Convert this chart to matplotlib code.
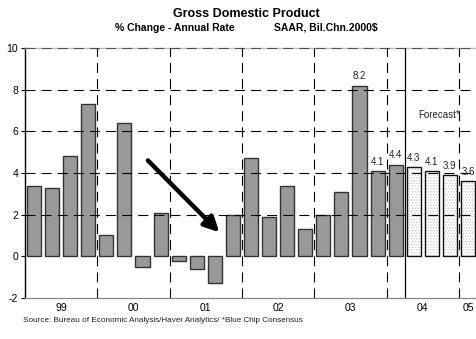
import matplotlib
matplotlib.use("Agg")
import matplotlib.pyplot as plt
import numpy as np

plt.rcParams['font.family'] = ['Liberation Sans', 'DejaVu Sans']
plt.rcParams['hatch.linewidth'] = 0.6
plt.rcParams['axes.unicode_minus'] = False

# Quarterly real GDP growth, 1999Q1 - 2005Q1 (% change, annual rate)
actual = [3.4, 3.3, 4.8, 7.3,
          1.0, 6.4, -0.5, 2.1,
          -0.2, -0.6, -1.3, 2.0,
          4.7, 1.9, 3.4, 1.3,
          2.0, 3.1, 8.2, 4.1,
          4.4]
forecast = [4.3, 4.1, 3.9, 3.6]
year_labels = ["99", "00", "01", "02", "03", "04", "05"]
labelled_actual = {18: "8.2", 19: "4.1", 20: "4.4"}
forecast_labels = ["4.3", "4.1", "3.9", "3.6"]

fig = plt.figure(figsize=(4.77, 3.39), dpi=100)
ax = fig.add_axes([25 / 477, 1 - 298 / 339, 1 - 25 / 477, (298 - 48) / 339])

n_act = len(actual)
x_act = np.arange(n_act)
x_fc = np.arange(n_act, n_act + len(forecast))
w = 0.78

ax.bar(x_act, actual, width=w, color="#999999", edgecolor="#333333",
       linewidth=1.0, zorder=2)
# dotted fill of the forecast bars, then their outlines
ax.bar(x_fc, forecast, width=w, color="white", edgecolor="#c8c8c8",
       hatch="......", linewidth=0, zorder=2)
ax.bar(x_fc, forecast, width=w, color="none", edgecolor="#111111",
       linewidth=1.0, zorder=3)

for i, txt in labelled_actual.items():
    ax.annotate(txt, (x_act[i], actual[i]), xytext=(0, 3),
                textcoords="offset points", ha="center", va="bottom",
                fontsize=7, color="#222222", zorder=5)
for xi, v, txt in zip(x_fc, forecast, forecast_labels):
    ax.annotate(txt, (xi, v), xytext=(0, 3), textcoords="offset points",
                ha="center", va="bottom", fontsize=7, color="#222222", zorder=5)

ax.set_xlim(-0.5, n_act + len(forecast) - 0.5)
ax.set_ylim(-2, 10)

# grid
dash = (0, (9, 5.5))
for y in [2, 4, 6, 8]:
    ax.axhline(y, color="black", lw=0.8, linestyle=dash, zorder=4)
ax.axhline(10, color="#bbbbbb", lw=1.0, zorder=4, clip_on=False)
ax.axhline(10, color="#555555", lw=0.8, linestyle=dash, zorder=4, clip_on=False)
for b in [3.5, 7.5, 11.5, 15.5, 19.5, 23.5]:
    ax.axvline(b, color="black", lw=0.8, linestyle=dash, zorder=4)
ax.axvline(20.5, color="black", lw=0.9, zorder=4)

for s in ["top", "right"]:
    ax.spines[s].set_visible(False)
ax.spines["left"].set_color("black")
ax.spines["left"].set_linewidth(1.0)
ax.spines["bottom"].set_color("#888888")
ax.spines["bottom"].set_linewidth(0.9)

ax.set_yticks(np.arange(-2, 11, 2))
ax.tick_params(axis="y", length=3, width=0.8, labelsize=7.5, pad=2)
ax.set_xticks([])

# year labels centred under each year's quarters
starts = [0, 4, 8, 12, 16, 20, 24]
ends = [3, 7, 11, 15, 19, 23, 24]
for lab, s, e in zip(year_labels, starts, ends):
    ax.text((s + e) / 2, -2.5, lab, ha="center", va="center", fontsize=7.5,
            transform=ax.transData, clip_on=False)

ax.text(22.4, 6.8, "Forecast*", ha="center", va="center", fontsize=7,
        color="#222222")

ax.annotate("", xy=(10.25, 1.15), xytext=(6.3, 4.6),
            arrowprops=dict(arrowstyle="-|>,head_length=0.9,head_width=0.45",
                            color="black", lw=3.2, shrinkA=0, shrinkB=0),
            zorder=6)

fig.text(246 / 477, 1 - 14 / 339, "Gross Domestic Product", ha="center",
         va="center", fontsize=9, fontweight="bold")
fig.text(175 / 477, 1 - 28 / 339, "% Change - Annual Rate", ha="center",
         va="center", fontsize=7.5, fontweight="bold")
fig.text(326 / 477, 1 - 28 / 339, "SAAR, Bil.Chn.2000$", ha="center",
         va="center", fontsize=7.5, fontweight="bold")
fig.text(23 / 477, 1 - 321 / 339,
         "Source: Bureau of Economic Analysis/Haver Analytics/ *Blue Chip Consensus",
         ha="left", va="center", fontsize=5.9, color="#222222")

fig.savefig("out.png", dpi=100)
